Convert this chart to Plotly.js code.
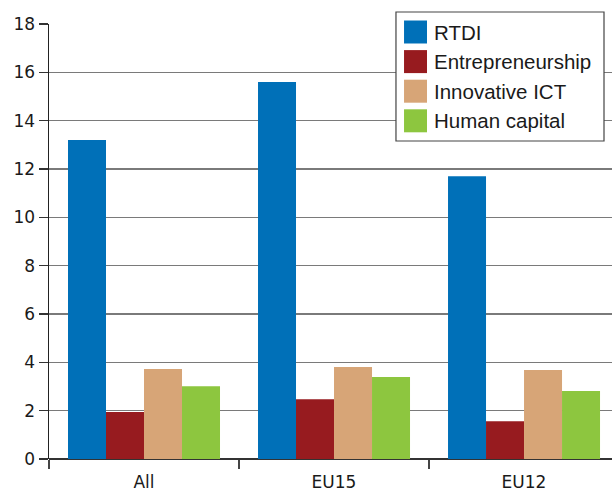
<!DOCTYPE html>
<html>
<head>
<meta charset="utf-8">
<script src="https://cdn.plot.ly/plotly-3.0.1.min.js"></script>
<style>html,body{margin:0;padding:0;background:#fff;}#chart{width:612px;height:494px;}</style>
</head>
<body>
<div id="chart"></div>
<script>
var categories = ["All", "EU15", "EU12"];
var seriesNames = ["RTDI", "Entrepreneurship", "Innovative ICT", "Human capital"];
var seriesColors = ["#0070B8", "#971B1F", "#D7A577", "#8DC63F"];
var rtdi = [13.2, 15.6, 11.7];
var entrepreneurship = [1.95, 2.47, 1.56];
var innovativeICT = [3.72, 3.81, 3.68];
var humanCapital = [3.01, 3.39, 2.81];
var seriesValues = [rtdi, entrepreneurship, innovativeICT, humanCapital];
var yTicks = [0, 2, 4, 6, 8, 10, 12, 14, 16, 18];

var traces = seriesValues.map(function (vals, i) {
  return {
    type: "bar",
    x: categories,
    y: vals,
    name: seriesNames[i],
    marker: { color: seriesColors[i], line: { width: 0 } },
    showlegend: false,
    hoverinfo: "skip"
  };
});

// custom legend (paper coordinates)
var shapes = [];
var annotations = [];
var lgX0 = 0.6163, lgX1 = 0.9858, lgY0 = 0.731, lgY1 = 1.0276;
shapes.push({ type: "rect", xref: "paper", yref: "paper", x0: lgX0, x1: lgX1, y0: lgY0, y1: lgY1,
  fillcolor: "#ffffff", line: { color: "#444444", width: 1.2 }, layer: "above" });
var sw = 23 / 435;
seriesNames.forEach(function (name, i) {
  var yc = (459 - (32 + i * 29.6)) / 435;
  shapes.push({ type: "rect", xref: "paper", yref: "paper",
    x0: 0.6306, x1: 0.6714, y0: yc - sw / 2, y1: yc + sw / 2,
    fillcolor: seriesColors[i], line: { width: 0 }, layer: "above" });
  annotations.push({ xref: "paper", yref: "paper", x: 0.6800, y: yc, xanchor: "left", yanchor: "middle",
    text: name, showarrow: false,
    font: { family: "Liberation Sans, Arial", size: 20.5, color: "#1a1a1a" } });
});

var tickFont = { family: "DejaVu Sans, Verdana, sans-serif", size: 17, color: "#1a1a1a" };

var layout = {
  width: 612, height: 494,
  margin: { l: 49, r: 0, t: 24, b: 35, pad: 0 },
  paper_bgcolor: "#ffffff", plot_bgcolor: "#ffffff",
  barmode: "group", bargap: 0.2, bargroupgap: 0,
  showlegend: false,
  font: tickFont,
  xaxis: {
    type: "category", range: [-0.5, 2.463], tickson: "boundaries",
    ticks: "outside", ticklen: 9, tickwidth: 1.5, tickcolor: "#444444",
    ticklabelstandoff: 11,
    showline: false, showgrid: false, zeroline: false,
    tickfont: tickFont
  },
  yaxis: {
    range: [0, 18], tickvals: yTicks, ticktext: yTicks.map(String),
    ticks: "outside", ticklen: 9, tickwidth: 1.2, tickcolor: "#333333",
    showline: true, linecolor: "#222222", linewidth: 1.5,
    showgrid: true, gridcolor: "#7a7a7a", gridwidth: 1.5,
    zeroline: true, zerolinecolor: "#333333", zerolinewidth: 2.5,
    tickfont: tickFont
  },
  shapes: shapes,
  annotations: annotations
};

Plotly.newPlot("chart", traces, layout, { staticPlot: true, displayModeBar: false });
</script>
</body>
</html>
